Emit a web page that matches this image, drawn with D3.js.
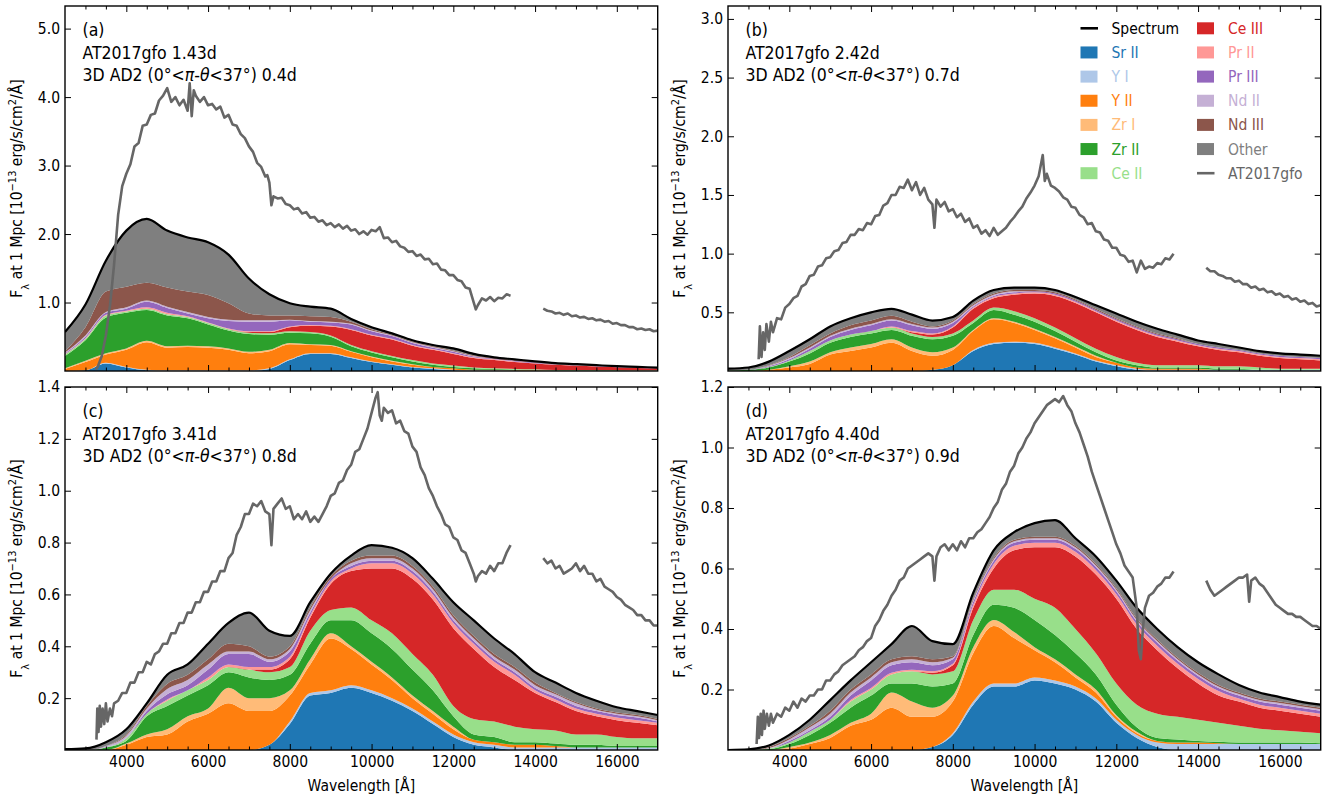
<!DOCTYPE html>
<html>
<head>
<meta charset="utf-8">
<script src="https://cdn.jsdelivr.net/npm/d3@7"></script>
<style>
  body { margin: 0; background: #fff; }
  text { font-family: "DejaVu Sans Condensed", "DejaVu Sans", Verdana, sans-serif; font-stretch: condensed; }
</style>
</head>
<body>
<svg id="chart"></svg>
<script>
// ---- data ----
const ions = ['Sr II', 'Y I', 'Y II', 'Zr I', 'Zr II', 'Ce II', 'Ce III', 'Pr II', 'Pr III', 'Nd II', 'Nd III', 'Other'];
const ionColors = ['#1f77b4', '#aec7e8', '#ff7f0e', '#ffbb78', '#2ca02c', '#98df8a', '#d62728', '#ff9896', '#9467bd', '#c5b0d5', '#8c564b', '#7f7f7f'];

const wavelengths = [2500, 3000, 3500, 4000, 4500, 5000, 5500, 6000, 6500, 7000, 7500, 8000, 8500, 9000, 9500,
    10000, 10500, 11000, 11500, 12000, 12500, 13000, 13500, 14000, 14500, 15000, 15500, 16000, 16500, 17000];

const panelTags = ['(a)', '(b)', '(c)', '(d)'];
const obsEpochs = ['1.43d', '2.42d', '3.41d', '4.40d'];
const modelEpochs = ['0.4d', '0.7d', '0.8d', '0.9d'];
const yMaxes = [5.33, 3.11, 1.40, 1.20];
const yTicks = [[1, 2, 3, 4, 5], [0.5, 1, 1.5, 2, 2.5, 3], [0.2, 0.4, 0.6, 0.8, 1.0, 1.2, 1.4], [0.2, 0.4, 0.6, 0.8, 1.0, 1.2]];
const xMajorTicks = [4000, 6000, 8000, 10000, 12000, 14000, 16000];
const xMinorTicks = [3000, 3500, 4500, 5000, 5500, 6500, 7000, 7500, 8500, 9000, 9500, 10500, 11000, 11500,
    12500, 13000, 13500, 14500, 15000, 15500, 16500];

// model flux per ion, one row per wavelength (order as in `ions`)
const modelA = [
    [0, 0, 0.03, 0.01, 0.18, 0.02, 0, 0.01, 0.01, 0.01, 0.02, 0.28],
    [0.01, 0, 0.12, 0.02, 0.30, 0.02, 0, 0.01, 0.02, 0.02, 0.12, 0.33],
    [0.11, 0.01, 0.12, 0.02, 0.52, 0.03, 0, 0.01, 0.03, 0.01, 0.30, 0.45],
    [0.05, 0.01, 0.25, 0.02, 0.52, 0.02, 0, 0.01, 0.03, 0.02, 0.30, 0.82],
    [0.01, 0.01, 0.40, 0.02, 0.45, 0.02, 0, 0.02, 0.08, 0.02, 0.26, 0.93],
    [0, 0.01, 0.33, 0.02, 0.45, 0.02, 0, 0.02, 0.07, 0.02, 0.28, 0.83],
    [0, 0.01, 0.34, 0.02, 0.40, 0.02, 0, 0.01, 0.04, 0.02, 0.30, 0.79],
    [0, 0.01, 0.33, 0.02, 0.32, 0.02, 0, 0.01, 0.06, 0.02, 0.32, 0.77],
    [0, 0.01, 0.30, 0.02, 0.26, 0.02, 0, 0.01, 0.11, 0.02, 0.24, 0.71],
    [0, 0.01, 0.25, 0.02, 0.26, 0.02, 0.01, 0.01, 0.14, 0.02, 0.10, 0.51],
    [0.03, 0.01, 0.25, 0.02, 0.22, 0.02, 0.02, 0.01, 0.14, 0.02, 0.07, 0.31],
    [0.16, 0.01, 0.22, 0.02, 0.15, 0.02, 0.06, 0.01, 0.09, 0.01, 0.06, 0.18],
    [0.25, 0.01, 0.12, 0.01, 0.16, 0.02, 0.09, 0.01, 0.05, 0.01, 0.07, 0.14],
    [0.25, 0.01, 0.11, 0.01, 0.12, 0.02, 0.13, 0.01, 0.05, 0.01, 0.07, 0.12],
    [0.19, 0.01, 0.08, 0.01, 0.07, 0.02, 0.22, 0.01, 0.07, 0.01, 0.03, 0.04],
    [0.13, 0.01, 0.06, 0.01, 0.06, 0.02, 0.23, 0.01, 0.05, 0.01, 0.02, 0.03],
    [0.09, 0.01, 0.04, 0.01, 0.05, 0.02, 0.24, 0.01, 0.04, 0.01, 0.01, 0.02],
    [0.05, 0.01, 0.03, 0.01, 0.04, 0.02, 0.21, 0.01, 0.03, 0.01, 0.01, 0.02],
    [0.03, 0.01, 0.02, 0, 0.03, 0.02, 0.20, 0.01, 0.02, 0.01, 0.01, 0.02],
    [0.01, 0.01, 0.02, 0, 0.02, 0.02, 0.17, 0.01, 0.02, 0.01, 0.01, 0.03],
    [0, 0.01, 0.01, 0, 0.02, 0.01, 0.14, 0.01, 0.01, 0.01, 0.01, 0.02],
    [0, 0.01, 0.01, 0, 0.01, 0.01, 0.12, 0.01, 0.01, 0, 0.01, 0.01],
    [0, 0.005, 0.005, 0, 0.01, 0.01, 0.10, 0.01, 0.01, 0, 0.01, 0.01],
    [0, 0.005, 0.005, 0, 0.005, 0.01, 0.085, 0.005, 0.01, 0, 0.005, 0.01],
    [0, 0.005, 0, 0, 0.005, 0.005, 0.075, 0.005, 0.005, 0, 0.005, 0.01],
    [0, 0.005, 0, 0, 0.005, 0.005, 0.06, 0.005, 0.005, 0, 0.005, 0.01],
    [0, 0.005, 0, 0, 0.005, 0.005, 0.05, 0.005, 0.005, 0, 0, 0.01],
    [0, 0.005, 0, 0, 0.005, 0.005, 0.04, 0, 0.005, 0, 0, 0.01],
    [0, 0.005, 0, 0, 0, 0.005, 0.035, 0, 0.005, 0, 0, 0.01],
    [0, 0.005, 0, 0, 0, 0.005, 0.03, 0, 0.005, 0, 0, 0.005]
];
const modelB = [
    [0, 0, 0, 0, 0.005, 0, 0, 0, 0, 0, 0, 0.015],
    [0, 0, 0, 0, 0.01, 0, 0, 0, 0, 0, 0, 0.02],
    [0, 0, 0.01, 0, 0.02, 0.005, 0, 0, 0.005, 0.005, 0.005, 0.03],
    [0, 0, 0.03, 0.01, 0.04, 0.01, 0, 0, 0.01, 0.01, 0.01, 0.05],
    [0, 0, 0.06, 0.02, 0.07, 0.02, 0, 0, 0.02, 0.01, 0.02, 0.05],
    [0, 0, 0.14, 0.02, 0.08, 0.02, 0, 0, 0.03, 0.01, 0.02, 0.06],
    [0, 0, 0.17, 0.03, 0.09, 0.02, 0, 0, 0.04, 0.01, 0.03, 0.06],
    [0, 0, 0.20, 0.03, 0.09, 0.02, 0, 0, 0.05, 0.01, 0.03, 0.07],
    [0, 0, 0.24, 0.03, 0.08, 0.02, 0, 0.01, 0.05, 0.01, 0.03, 0.06],
    [0, 0, 0.17, 0.03, 0.10, 0.02, 0.01, 0.01, 0.05, 0.01, 0.02, 0.06],
    [0.01, 0, 0.12, 0.03, 0.11, 0.02, 0.02, 0.01, 0.04, 0.01, 0.01, 0.05],
    [0.05, 0, 0.13, 0.02, 0.10, 0.02, 0.05, 0.01, 0.03, 0.01, 0.01, 0.03],
    [0.17, 0.01, 0.16, 0.01, 0.06, 0.02, 0.10, 0.01, 0.01, 0.01, 0.01, 0.03],
    [0.23, 0.01, 0.20, 0.01, 0.07, 0.02, 0.08, 0.01, 0.01, 0.01, 0.01, 0.03],
    [0.24, 0.01, 0.16, 0.01, 0.06, 0.03, 0.14, 0.01, 0.01, 0.01, 0.01, 0.02],
    [0.23, 0.01, 0.11, 0.01, 0.06, 0.03, 0.21, 0.01, 0.01, 0, 0.01, 0.02],
    [0.19, 0.01, 0.08, 0.01, 0.05, 0.03, 0.27, 0.01, 0.01, 0, 0.01, 0.02],
    [0.14, 0.01, 0.05, 0.01, 0.04, 0.03, 0.30, 0.01, 0.01, 0, 0.01, 0.02],
    [0.08, 0.01, 0.03, 0.01, 0.03, 0.03, 0.31, 0.01, 0.01, 0, 0.01, 0.03],
    [0.04, 0.01, 0.02, 0, 0.02, 0.03, 0.30, 0.01, 0.01, 0, 0.01, 0.04],
    [0.01, 0.01, 0.01, 0, 0.02, 0.02, 0.28, 0.01, 0.01, 0, 0.01, 0.04],
    [0, 0.01, 0.01, 0, 0.01, 0.02, 0.24, 0.01, 0.01, 0, 0.01, 0.04],
    [0, 0.01, 0.01, 0, 0.01, 0.02, 0.20, 0.01, 0.01, 0, 0.01, 0.03],
    [0, 0.01, 0.01, 0, 0.01, 0.02, 0.16, 0.01, 0.01, 0, 0, 0.03],
    [0, 0.01, 0, 0, 0.01, 0.02, 0.14, 0.01, 0.01, 0, 0, 0.03],
    [0, 0.01, 0, 0, 0.01, 0.02, 0.12, 0.01, 0.01, 0, 0, 0.02],
    [0, 0.01, 0, 0, 0, 0.02, 0.10, 0.01, 0.01, 0, 0, 0.02],
    [0, 0.01, 0, 0, 0, 0.01, 0.09, 0.01, 0.01, 0, 0, 0.02],
    [0, 0.01, 0, 0, 0, 0.01, 0.08, 0.01, 0.01, 0, 0, 0.02],
    [0, 0.01, 0, 0, 0, 0.01, 0.07, 0.01, 0.01, 0, 0, 0.02]
];
const modelC = [
    [0, 0, 0, 0, 0, 0, 0, 0, 0, 0, 0, 0.003],
    [0, 0, 0, 0, 0, 0, 0, 0, 0, 0, 0, 0.006],
    [0, 0, 0, 0, 0.01, 0, 0, 0, 0, 0.005, 0, 0.015],
    [0, 0, 0.02, 0.005, 0.01, 0.01, 0, 0, 0, 0.01, 0.005, 0.02],
    [0, 0, 0.05, 0.01, 0.07, 0.01, 0, 0, 0.01, 0.01, 0.01, 0.01],
    [0, 0, 0.06, 0.02, 0.09, 0.02, 0, 0.005, 0.02, 0.02, 0.02, 0.035],
    [0, 0, 0.11, 0.02, 0.08, 0.02, 0, 0, 0.02, 0.02, 0.02, 0.04],
    [0, 0, 0.14, 0.02, 0.09, 0.02, 0, 0.01, 0.03, 0.02, 0.02, 0.06],
    [0, 0, 0.18, 0.06, 0.06, 0.02, 0, 0.01, 0.04, 0.01, 0.03, 0.08],
    [0, 0, 0.15, 0.05, 0.08, 0.03, 0, 0.01, 0.05, 0.01, 0.02, 0.13],
    [0.02, 0, 0.13, 0.05, 0.07, 0.03, 0.01, 0.01, 0.02, 0.01, 0.01, 0.10],
    [0.10, 0.01, 0.10, 0.02, 0.06, 0.03, 0.03, 0.01, 0.02, 0.01, 0.01, 0.04],
    [0.21, 0.01, 0.11, 0.02, 0.06, 0.05, 0.05, 0.01, 0.01, 0.01, 0.01, 0.02],
    [0.22, 0.01, 0.20, 0.02, 0.05, 0.04, 0.10, 0.01, 0.01, 0, 0.01, 0.01],
    [0.24, 0.01, 0.14, 0.01, 0.10, 0.05, 0.14, 0.01, 0.01, 0.01, 0.01, 0.02],
    [0.22, 0.01, 0.10, 0.01, 0.11, 0.05, 0.20, 0.02, 0.01, 0.01, 0.01, 0.04],
    [0.19, 0.01, 0.07, 0.01, 0.11, 0.06, 0.25, 0.02, 0.01, 0.01, 0.01, 0.03],
    [0.15, 0.01, 0.04, 0.01, 0.10, 0.06, 0.29, 0.02, 0.01, 0.01, 0.01, 0.03],
    [0.10, 0.01, 0.03, 0.01, 0.08, 0.06, 0.29, 0.02, 0.01, 0.01, 0.01, 0.03],
    [0.05, 0.01, 0.02, 0.01, 0.04, 0.04, 0.30, 0.02, 0.01, 0.01, 0.01, 0.05],
    [0.02, 0.01, 0.01, 0, 0.02, 0.06, 0.27, 0.02, 0.01, 0.01, 0.01, 0.06],
    [0.01, 0.01, 0.01, 0, 0.02, 0.06, 0.21, 0.02, 0.01, 0.01, 0.01, 0.06],
    [0, 0.01, 0.01, 0, 0.01, 0.06, 0.18, 0.02, 0.01, 0.01, 0.01, 0.05],
    [0, 0.01, 0.01, 0, 0.01, 0.05, 0.14, 0.01, 0.01, 0.01, 0.01, 0.04],
    [0, 0.01, 0.005, 0, 0.01, 0.05, 0.11, 0.01, 0.01, 0.01, 0.005, 0.04],
    [0, 0.01, 0, 0, 0.01, 0.04, 0.09, 0.01, 0.01, 0.01, 0.005, 0.035],
    [0, 0.01, 0, 0, 0.01, 0.04, 0.07, 0.01, 0.01, 0.005, 0.005, 0.03],
    [0, 0.01, 0, 0, 0.005, 0.035, 0.065, 0.01, 0.01, 0.005, 0.005, 0.02],
    [0, 0.01, 0, 0, 0.005, 0.03, 0.06, 0.01, 0.01, 0.005, 0.005, 0.015],
    [0, 0.01, 0, 0, 0.005, 0.03, 0.05, 0.01, 0.005, 0.005, 0.005, 0.015]
];
const modelD = [
    [0, 0, 0, 0, 0, 0, 0, 0, 0, 0, 0, 0],
    [0, 0, 0, 0, 0, 0, 0, 0, 0, 0, 0, 0.002],
    [0, 0, 0, 0, 0.003, 0.002, 0, 0, 0, 0.002, 0.003, 0.005],
    [0, 0, 0.005, 0.005, 0.01, 0.005, 0, 0, 0.005, 0.005, 0.005, 0.01],
    [0, 0, 0.02, 0.005, 0.025, 0.01, 0, 0, 0.005, 0.01, 0.005, 0.02],
    [0, 0, 0.04, 0.01, 0.04, 0.01, 0, 0, 0.01, 0.01, 0.01, 0.035],
    [0, 0, 0.08, 0.01, 0.05, 0.02, 0, 0.005, 0.015, 0.01, 0.01, 0.03],
    [0, 0, 0.10, 0.02, 0.06, 0.02, 0, 0.005, 0.025, 0.01, 0.01, 0.04],
    [0, 0, 0.14, 0.05, 0.03, 0.03, 0, 0.005, 0.025, 0.01, 0.01, 0.05],
    [0, 0, 0.11, 0.05, 0.06, 0.04, 0, 0.005, 0.025, 0.01, 0.01, 0.10],
    [0.01, 0, 0.10, 0.03, 0.07, 0.04, 0.005, 0.005, 0.02, 0.01, 0.01, 0.06],
    [0.05, 0.005, 0.105, 0.02, 0.04, 0.04, 0.02, 0.005, 0.015, 0.005, 0.005, 0.04],
    [0.15, 0.01, 0.16, 0.02, 0.04, 0.05, 0.04, 0.01, 0.01, 0.005, 0.005, 0.02],
    [0.21, 0.01, 0.19, 0.02, 0.05, 0.05, 0.07, 0.015, 0.01, 0.005, 0.005, 0.025],
    [0.21, 0.01, 0.15, 0.02, 0.08, 0.06, 0.13, 0.015, 0.01, 0.005, 0.005, 0.025],
    [0.23, 0.01, 0.09, 0.01, 0.09, 0.07, 0.17, 0.015, 0.01, 0.005, 0.005, 0.045],
    [0.22, 0.01, 0.06, 0.01, 0.08, 0.09, 0.20, 0.015, 0.01, 0.005, 0.005, 0.055],
    [0.20, 0.01, 0.03, 0.01, 0.07, 0.08, 0.24, 0.015, 0.01, 0.005, 0.005, 0.025],
    [0.16, 0.01, 0.02, 0.01, 0.05, 0.07, 0.26, 0.015, 0.01, 0.005, 0.005, 0.025],
    [0.09, 0.01, 0.01, 0.005, 0.035, 0.07, 0.28, 0.015, 0.01, 0.005, 0.005, 0.025],
    [0.04, 0.01, 0.005, 0.005, 0.015, 0.075, 0.25, 0.015, 0.01, 0.005, 0.005, 0.035],
    [0.01, 0.015, 0.005, 0, 0.01, 0.08, 0.21, 0.015, 0.01, 0.005, 0.005, 0.035],
    [0, 0.02, 0.005, 0, 0.01, 0.075, 0.16, 0.015, 0.01, 0.005, 0.005, 0.035],
    [0, 0.02, 0.005, 0, 0.005, 0.07, 0.12, 0.015, 0.01, 0.005, 0.005, 0.035],
    [0, 0.02, 0.002, 0, 0.005, 0.063, 0.09, 0.015, 0.01, 0.005, 0.005, 0.035],
    [0, 0.02, 0, 0, 0.005, 0.055, 0.08, 0.01, 0.01, 0.005, 0.005, 0.025],
    [0, 0.02, 0, 0, 0.005, 0.045, 0.07, 0.01, 0.01, 0.005, 0.005, 0.02],
    [0, 0.02, 0, 0, 0.005, 0.04, 0.065, 0.01, 0.01, 0.005, 0.005, 0.015],
    [0, 0.02, 0, 0, 0.005, 0.035, 0.06, 0.01, 0.01, 0.005, 0.005, 0.01],
    [0, 0.02, 0, 0, 0.002, 0.033, 0.055, 0.01, 0.01, 0.005, 0.005, 0.01]
];

// observed AT2017gfo spectra [wavelength, flux]; null marks the gap between the two arms
const obsA = [[3250, 0.02], [3300, 0.06], [3400, 0.22], [3500, 0.52], [3600, 0.95], [3700, 1.55], [3800, 2.28],
    [3900, 2.7], [4000, 2.88], [4100, 3.02], [4200, 3.28], [4300, 3.33], [4400, 3.58], [4500, 3.6], [4600, 3.74],
    [4700, 3.76], [4800, 3.95], [4900, 4.02], [5000, 4.13], [5100, 3.93], [5200, 4.0], [5300, 3.88], [5400, 3.96],
    [5500, 3.8], [5550, 4.2], [5600, 3.72], [5650, 4.1], [5700, 4.02], [5800, 3.93], [5900, 4.0], [6000, 3.88],
    [6100, 3.9], [6200, 3.82], [6300, 3.86], [6400, 3.7], [6500, 3.74], [6600, 3.6], [6700, 3.58], [6800, 3.46],
    [6900, 3.4], [7000, 3.28], [7100, 3.2], [7200, 3.04], [7300, 2.98], [7400, 2.84], [7450, 2.86], [7500, 2.75],
    [7550, 2.42], [7600, 2.55], [7700, 2.52], [7800, 2.53], [7900, 2.44], [8000, 2.42], [8100, 2.36], [8200, 2.38],
    [8300, 2.3], [8400, 2.32], [8500, 2.24], [8600, 2.25], [8700, 2.18], [8800, 2.2], [8900, 2.13], [9000, 2.16],
    [9100, 2.1], [9200, 2.14], [9300, 2.08], [9400, 2.12], [9500, 2.05], [9600, 2.07], [9700, 2.0], [9800, 2.04],
    [9900, 1.99], [10000, 2.06], [10100, 2.04], [10200, 2.1], [10300, 1.94], [10400, 1.95], [10500, 1.88],
    [10600, 1.9], [10700, 1.82], [10800, 1.8], [10900, 1.74], [11000, 1.75], [11100, 1.68], [11200, 1.7],
    [11300, 1.63], [11400, 1.64], [11500, 1.56], [11600, 1.57], [11700, 1.48], [11800, 1.47], [11900, 1.4],
    [12000, 1.4], [12100, 1.33], [12200, 1.31], [12300, 1.22], [12400, 1.2], [12500, 1.0], [12550, 0.9],
    [12600, 0.96], [12700, 1.06], [12800, 1.03], [12900, 1.08], [13000, 1.02], [13100, 1.07], [13200, 1.06],
    [13300, 1.12], [13400, 1.1], [13800, null],
    [14200, 0.91], [14300, 0.88], [14400, 0.87], [14500, 0.84], [14600, 0.85], [14700, 0.82], [14800, 0.84],
    [14900, 0.8], [15000, 0.81], [15100, 0.78], [15200, 0.79], [15300, 0.76], [15400, 0.77], [15500, 0.74],
    [15600, 0.75], [15700, 0.72], [15800, 0.73], [15900, 0.69], [16000, 0.7], [16100, 0.67], [16200, 0.67],
    [16300, 0.64], [16400, 0.64], [16500, 0.61], [16600, 0.62], [16700, 0.6], [16800, 0.61], [16900, 0.58], [17000, 0.59]];
const obsB = [[3250, 0.1], [3280, 0.38], [3320, 0.12], [3360, 0.33], [3400, 0.18], [3440, 0.4], [3500, 0.25],
    [3550, 0.42], [3600, 0.33], [3700, 0.45], [3800, 0.44], [3900, 0.54], [4000, 0.57], [4100, 0.62], [4200, 0.64],
    [4300, 0.72], [4400, 0.74], [4500, 0.81], [4600, 0.82], [4700, 0.89], [4800, 0.9], [4900, 0.96], [5000, 0.97],
    [5100, 1.02], [5200, 1.03], [5300, 1.09], [5400, 1.1], [5500, 1.16], [5600, 1.16], [5700, 1.21], [5800, 1.2],
    [5900, 1.26], [6000, 1.25], [6100, 1.32], [6200, 1.33], [6300, 1.41], [6400, 1.43], [6500, 1.5], [6600, 1.5],
    [6700, 1.57], [6800, 1.56], [6900, 1.63], [7000, 1.54], [7100, 1.61], [7200, 1.5], [7300, 1.56], [7400, 1.46],
    [7500, 1.42], [7550, 1.22], [7600, 1.46], [7700, 1.4], [7800, 1.44], [7900, 1.36], [8000, 1.38], [8100, 1.31],
    [8200, 1.34], [8300, 1.27], [8400, 1.3], [8500, 1.22], [8600, 1.24], [8700, 1.17], [8800, 1.2], [8900, 1.15],
    [9000, 1.22], [9100, 1.16], [9200, 1.19], [9300, 1.22], [9400, 1.27], [9500, 1.31], [9600, 1.36], [9700, 1.4],
    [9800, 1.47], [9900, 1.52], [10000, 1.58], [10100, 1.66], [10200, 1.84], [10250, 1.62], [10300, 1.68],
    [10400, 1.58], [10500, 1.56], [10600, 1.53], [10700, 1.48], [10800, 1.46], [10900, 1.4], [11000, 1.39],
    [11100, 1.33], [11200, 1.31], [11300, 1.25], [11400, 1.26], [11500, 1.19], [11600, 1.18], [11700, 1.12],
    [11800, 1.11], [11900, 1.05], [12000, 1.05], [12100, 0.99], [12200, 0.98], [12300, 0.93], [12400, 0.94],
    [12500, 0.84], [12600, 0.94], [12700, 0.87], [12800, 0.89], [12900, 0.88], [13000, 0.92], [13100, 0.91],
    [13200, 0.96], [13300, 0.95], [13400, 1.0], [13800, null],
    [14200, 0.88], [14300, 0.85], [14400, 0.85], [14500, 0.82], [14600, 0.81], [14700, 0.79], [14800, 0.79],
    [14900, 0.76], [15000, 0.77], [15100, 0.74], [15200, 0.74], [15300, 0.71], [15400, 0.72], [15500, 0.69],
    [15600, 0.7], [15700, 0.67], [15800, 0.68], [15900, 0.65], [16000, 0.66], [16100, 0.63], [16200, 0.64],
    [16300, 0.61], [16400, 0.62], [16500, 0.59], [16600, 0.6], [16700, 0.57], [16800, 0.58], [16900, 0.55], [17000, 0.56]];
const obsC = [[3270, 0.04], [3290, 0.16], [3320, 0.07], [3350, 0.17], [3380, 0.09], [3420, 0.16], [3460, 0.1],
    [3500, 0.18], [3540, 0.11], [3600, 0.16], [3650, 0.13], [3700, 0.18], [3800, 0.19], [3900, 0.22], [4000, 0.22],
    [4100, 0.26], [4200, 0.26], [4300, 0.3], [4400, 0.3], [4500, 0.34], [4600, 0.33], [4700, 0.37], [4800, 0.38],
    [4900, 0.41], [5000, 0.41], [5100, 0.45], [5200, 0.45], [5300, 0.49], [5400, 0.49], [5500, 0.53], [5600, 0.53],
    [5700, 0.57], [5800, 0.57], [5900, 0.61], [6000, 0.61], [6100, 0.65], [6200, 0.65], [6300, 0.69], [6400, 0.69],
    [6500, 0.74], [6600, 0.76], [6700, 0.83], [6800, 0.86], [6900, 0.91], [7000, 0.91], [7100, 0.95], [7200, 0.94],
    [7300, 0.96], [7400, 0.92], [7500, 0.91], [7550, 0.79], [7600, 0.93], [7700, 0.95], [7800, 0.97], [7900, 0.93],
    [8000, 0.94], [8100, 0.89], [8200, 0.91], [8300, 0.89], [8400, 0.92], [8500, 0.88], [8600, 0.9], [8700, 0.88],
    [8800, 0.91], [8900, 0.94], [9000, 0.98], [9100, 0.99], [9200, 1.03], [9300, 1.04], [9400, 1.08], [9500, 1.1],
    [9600, 1.15], [9700, 1.16], [9800, 1.2], [9900, 1.24], [10000, 1.3], [10100, 1.36], [10150, 1.38], [10200, 1.29],
    [10250, 1.27], [10300, 1.32], [10400, 1.3], [10500, 1.31], [10600, 1.26], [10700, 1.27], [10800, 1.23],
    [10900, 1.22], [11000, 1.17], [11100, 1.15], [11200, 1.09], [11300, 1.06], [11400, 1.01], [11500, 0.98],
    [11600, 0.94], [11700, 0.91], [11800, 0.87], [11900, 0.86], [12000, 0.82], [12100, 0.81], [12200, 0.77],
    [12300, 0.76], [12400, 0.72], [12500, 0.68], [12550, 0.65], [12600, 0.67], [12700, 0.69], [12800, 0.68],
    [12900, 0.71], [13000, 0.69], [13100, 0.72], [13200, 0.72], [13300, 0.76], [13400, 0.79], [13800, null],
    [14200, 0.74], [14300, 0.72], [14400, 0.73], [14500, 0.7], [14600, 0.71], [14700, 0.68], [14800, 0.69],
    [14900, 0.7], [15000, 0.72], [15100, 0.69], [15200, 0.71], [15300, 0.68], [15400, 0.68], [15500, 0.65],
    [15600, 0.66], [15700, 0.63], [15800, 0.62], [15900, 0.61], [16000, 0.59], [16100, 0.58], [16200, 0.56],
    [16300, 0.55], [16400, 0.54], [16500, 0.52], [16600, 0.52], [16700, 0.5], [16800, 0.5], [16900, 0.48], [17000, 0.48]];
const obsD = [[3200, 0.02], [3230, 0.11], [3260, 0.04], [3300, 0.12], [3330, 0.05], [3370, 0.13], [3400, 0.07],
    [3450, 0.12], [3500, 0.08], [3550, 0.12], [3600, 0.09], [3700, 0.12], [3800, 0.11], [3900, 0.14], [4000, 0.13],
    [4100, 0.16], [4200, 0.14], [4300, 0.17], [4400, 0.16], [4500, 0.18], [4600, 0.18], [4700, 0.2], [4800, 0.2],
    [4900, 0.23], [5000, 0.23], [5100, 0.25], [5200, 0.26], [5300, 0.28], [5400, 0.29], [5500, 0.3], [5600, 0.31],
    [5700, 0.33], [5800, 0.34], [5900, 0.36], [6000, 0.37], [6100, 0.41], [6200, 0.43], [6300, 0.46], [6400, 0.48],
    [6500, 0.51], [6600, 0.53], [6700, 0.56], [6800, 0.57], [6900, 0.6], [7000, 0.61], [7100, 0.62], [7200, 0.63],
    [7300, 0.64], [7400, 0.65], [7500, 0.64], [7550, 0.56], [7600, 0.64], [7700, 0.67], [7800, 0.68], [7900, 0.66],
    [8000, 0.68], [8100, 0.66], [8200, 0.69], [8300, 0.67], [8400, 0.7], [8500, 0.7], [8600, 0.72], [8700, 0.73],
    [8800, 0.75], [8900, 0.77], [9000, 0.8], [9100, 0.82], [9200, 0.86], [9300, 0.88], [9400, 0.92], [9500, 0.94],
    [9600, 0.98], [9700, 1.0], [9800, 1.03], [9900, 1.05], [10000, 1.08], [10100, 1.1], [10200, 1.12], [10300, 1.14],
    [10400, 1.15], [10500, 1.16], [10600, 1.15], [10700, 1.17], [10800, 1.14], [10900, 1.12], [11000, 1.08],
    [11100, 1.05], [11200, 1.01], [11300, 0.97], [11400, 0.92], [11500, 0.88], [11600, 0.84], [11700, 0.8],
    [11800, 0.76], [11900, 0.72], [12000, 0.68], [12100, 0.65], [12200, 0.61], [12300, 0.59], [12400, 0.57],
    [12500, 0.47], [12550, 0.33], [12600, 0.3], [12650, 0.4], [12700, 0.47], [12800, 0.51], [12900, 0.52],
    [13000, 0.54], [13100, 0.55], [13200, 0.57], [13300, 0.57], [13400, 0.59], [13800, null],
    [14200, 0.56], [14300, 0.53], [14400, 0.51], [14500, 0.52], [14600, 0.53], [14700, 0.54], [14800, 0.55],
    [14900, 0.56], [15000, 0.57], [15100, 0.57], [15200, 0.58], [15250, 0.49], [15300, 0.56], [15400, 0.57],
    [15500, 0.55], [15600, 0.54], [15700, 0.52], [15800, 0.5], [15900, 0.48], [16000, 0.47], [16100, 0.46],
    [16200, 0.45], [16300, 0.45], [16400, 0.44], [16500, 0.44], [16600, 0.43], [16700, 0.42], [16800, 0.41],
    [16900, 0.41], [17000, 0.4]];

const models = [modelA, modelB, modelC, modelD];
const observed = [obsA, obsB, obsC, obsD];

// ---- layout ----
const width = 1338;
const height = 800;
const plotW = 592.7;
const colX = [65, 728];
const rowY = [6, 387];
const rowH = [365, 363];
const obsColor = '#666666';
const fontSize = 15.5;

const svg = d3.select('#chart')
    .attr('width', width)
    .attr('height', height)
    .attr('viewBox', [0, 0, width, height]);

const defs = svg.append('defs');

panelTags.forEach((tag, i) => {
    const x0 = colX[i % 2];
    const y0 = rowY[Math.floor(i / 2)];
    const h = rowH[Math.floor(i / 2)];
    const bottomRow = i >= 2;

    const x = d3.scaleLinear().domain([2500, 17000]).range([x0, x0 + plotW]);
    const y = d3.scaleLinear().domain([0, yMaxes[i]]).range([y0 + h, y0]);

    // rows -> records for the stack
    const records = models[i].map((row, j) => {
        const rec = {wl: wavelengths[j]};
        ions.forEach((ion, k) => { rec[ion] = row[k]; });
        return rec;
    });
    const series = d3.stack().keys(ions)(records);

    defs.append('clipPath')
        .attr('id', `clip-${i}`)
        .append('rect')
            .attr('x', x0).attr('y', y0)
            .attr('width', plotW).attr('height', h);

    const plot = svg.append('g').attr('clip-path', `url(#clip-${i})`);

    const area = d3.area()
        .x(d => x(d.data.wl))
        .y0(d => y(d[0]))
        .y1(d => y(d[1]))
        .curve(d3.curveMonotoneX);

    plot.append('g')
        .selectAll('path')
        .data(series)
        .join('path')
            .attr('fill', (d, k) => ionColors[k])
            .attr('d', area);

    // total model spectrum
    const totalLine = d3.line()
        .x(d => x(d.wl))
        .y(d => y(d3.sum(ions, ion => d[ion])))
        .curve(d3.curveMonotoneX);
    plot.append('path')
        .datum(records)
        .attr('fill', 'none')
        .attr('stroke', '#000')
        .attr('stroke-width', 2.2)
        .attr('d', totalLine);

    // observed spectrum
    const obsLine = d3.line()
        .defined(d => d[1] !== null)
        .x(d => x(d[0]))
        .y(d => y(d[1]));
    plot.append('path')
        .datum(observed[i])
        .attr('fill', 'none')
        .attr('stroke', obsColor)
        .attr('stroke-width', 2.6)
        .attr('stroke-linejoin', 'round')
        .attr('d', obsLine);

    // axes, ticks pointing inwards on all four sides
    const axes = svg.append('g').attr('class', 'axes');
    const styleAxis = g => {
        g.select('.domain').remove();
        g.selectAll('.tick line').attr('stroke', '#000').attr('stroke-width', 1);
        g.selectAll('.tick text').attr('font-size', fontSize).attr('fill', '#000')
            .attr('font-family', null);
    };
    axes.append('g')
        .attr('transform', `translate(0, ${y0 + h})`)
        .call(d3.axisBottom(x).tickValues(xMajorTicks).tickSize(-6).tickPadding(6)
            .tickFormat(bottomRow ? d3.format('d') : ''))
        .call(styleAxis);
    axes.append('g')
        .attr('transform', `translate(0, ${y0 + h})`)
        .call(d3.axisBottom(x).tickValues(xMinorTicks).tickSize(-3.5).tickFormat(''))
        .call(styleAxis);
    axes.append('g')
        .attr('transform', `translate(0, ${y0})`)
        .call(d3.axisTop(x).tickValues(xMajorTicks).tickSize(-6).tickFormat(''))
        .call(styleAxis);
    axes.append('g')
        .attr('transform', `translate(0, ${y0})`)
        .call(d3.axisTop(x).tickValues(xMinorTicks).tickSize(-3.5).tickFormat(''))
        .call(styleAxis);
    axes.append('g')
        .attr('transform', `translate(${x0}, 0)`)
        .call(d3.axisLeft(y).tickValues(yTicks[i]).tickSize(-6).tickPadding(5).tickFormat(d3.format('.1f')))
        .call(styleAxis);
    axes.append('g')
        .attr('transform', `translate(${x0 + plotW}, 0)`)
        .call(d3.axisRight(y).tickValues(yTicks[i]).tickSize(-6).tickFormat(''))
        .call(styleAxis);

    axes.append('rect')
        .attr('x', x0).attr('y', y0)
        .attr('width', plotW).attr('height', h)
        .attr('fill', 'none')
        .attr('stroke', '#000')
        .attr('stroke-width', 1.4);

    // annotation text
    const note = svg.append('g').attr('font-size', 17.5).attr('fill', '#000');
    note.append('text').attr('x', x0 + 17.5).attr('y', y0 + 30).text(tag);
    note.append('text').attr('x', x0 + 17.5).attr('y', y0 + 52.5).text(`AT2017gfo ${obsEpochs[i]}`);
    const t3 = note.append('text').attr('x', x0 + 17.5).attr('y', y0 + 75);
    t3.append('tspan').text('3D AD2 (0°<');
    t3.append('tspan').attr('font-style', 'italic').text('π');
    t3.append('tspan').text('-');
    t3.append('tspan').attr('font-style', 'italic').text('θ');
    t3.append('tspan').text(`<37°) ${modelEpochs[i]}`);

    // y-axis label
    const yl = svg.append('text')
        .attr('transform', `translate(${x0 - 43}, ${y0 + h / 2}) rotate(-90)`)
        .attr('text-anchor', 'middle')
        .attr('font-size', fontSize)
        .attr('fill', '#000');
    yl.append('tspan').text('F');
    yl.append('tspan').attr('font-size', 11).attr('baseline-shift', 'sub').text('λ');
    yl.append('tspan').text(' at 1 Mpc [10');
    yl.append('tspan').attr('font-size', 11).attr('baseline-shift', 'super').text('−13');
    yl.append('tspan').text(' erg/s/cm');
    yl.append('tspan').attr('font-size', 11).attr('baseline-shift', 'super').text('2');
    yl.append('tspan').text('/Å]');

    if (bottomRow) {
        svg.append('text')
            .attr('x', x0 + plotW / 2)
            .attr('y', 791)
            .attr('text-anchor', 'middle')
            .attr('font-size', fontSize)
            .text('Wavelength [Å]');
    }
});

// ---- legend (inside panel b) ----
const legendItems = [{label: 'Spectrum', type: 'line', color: '#000', text: '#000'}]
    .concat(ions.map((ion, k) => ({label: ion, type: 'patch', color: ionColors[k], text: ionColors[k]})))
    .concat([{label: 'AT2017gfo', type: 'line', color: obsColor, text: obsColor}]);

const legend = svg.append('g').attr('class', 'legend');
legendItems.forEach((item, n) => {
    const col = Math.floor(n / 7);
    const row = n % 7;
    const lx = 1080.5 + col * 116.5;
    const ly = 28.3 + row * 24.15;
    if (item.type === 'line') {
        legend.append('line')
            .attr('x1', lx).attr('x2', lx + 17.5)
            .attr('y1', ly).attr('y2', ly)
            .attr('stroke', item.color)
            .attr('stroke-width', 2.6);
    } else {
        legend.append('rect')
            .attr('x', lx).attr('y', ly - 6)
            .attr('width', 17).attr('height', 12)
            .attr('fill', item.color);
    }
    legend.append('text')
        .attr('x', lx + 31)
        .attr('y', ly + 5.5)
        .attr('font-size', fontSize)
        .attr('fill', item.text)
        .text(item.label);
});
</script>
</body>
</html>
